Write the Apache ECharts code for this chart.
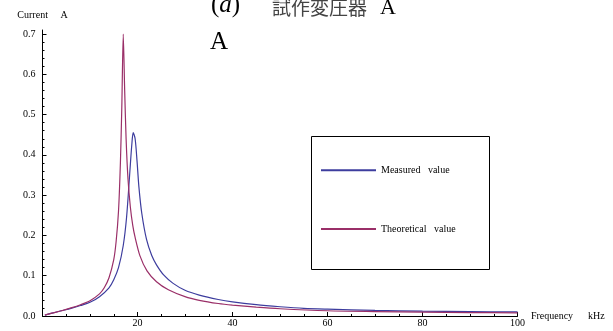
<!DOCTYPE html>
<html>
<head>
<meta charset="utf-8">
<script src="https://cdn.jsdelivr.net/npm/echarts@6/dist/echarts.min.js"></script>
<style>
html,body{margin:0;padding:0;background:#fff;}
#c{width:613px;height:331px;}
</style>
</head>
<body>
<div id="c"></div>
<script>
// ---- data ----
const seriesNames = ['Measured   value', 'Theoretical   value'];
const measuredFreq = [0.5, 2, 4, 6, 8, 10, 12, 14, 15, 16, 17, 17.7, 18.4, 18.8, 19.1, 19.5, 19.9, 20.3, 20.9, 21.9, 23, 24, 25.5, 27.5, 30, 33, 37, 40, 45, 50, 55, 60, 70, 80, 90, 100];
const measuredCurrent = [0.002, 0.007, 0.013, 0.019, 0.026, 0.034, 0.048, 0.070, 0.090, 0.120, 0.175, 0.245, 0.360, 0.425, 0.455, 0.440, 0.385, 0.320, 0.255, 0.190, 0.150, 0.127, 0.102, 0.081, 0.064, 0.052, 0.041, 0.035, 0.028, 0.023, 0.019, 0.017, 0.014, 0.012, 0.011, 0.010];
const theoreticalFreq = [0.5, 2, 4, 6, 8, 10, 12, 13, 14, 15, 15.5, 16, 16.4, 16.7, 17.0, 17.3, 17.6, 18.0, 18.5, 19, 19.5, 20.5, 22, 24, 26.5, 30, 33, 37, 40, 45, 50, 60, 70, 80, 90, 100];
const theoreticalCurrent = [0.002, 0.007, 0.013, 0.020, 0.028, 0.038, 0.055, 0.070, 0.095, 0.140, 0.185, 0.260, 0.380, 0.520, 0.700, 0.560, 0.440, 0.340, 0.270, 0.225, 0.195, 0.150, 0.112, 0.085, 0.065, 0.048, 0.039, 0.031, 0.027, 0.022, 0.018, 0.013, 0.011, 0.0095, 0.0085, 0.008];
const yMajorTicks = [0, 0.1, 0.2, 0.3, 0.4, 0.5, 0.6, 0.7];
const yMinorTicks = [0.02, 0.04, 0.06, 0.08, 0.12, 0.14, 0.16, 0.18, 0.22, 0.24, 0.26, 0.28, 0.32, 0.34, 0.36, 0.38, 0.42, 0.44, 0.46, 0.48, 0.52, 0.54, 0.56, 0.58, 0.62, 0.64, 0.66, 0.68];
const xAxisName = 'Frequency      kHz';
const yAxisName = 'Current     A';

const serif = 'Liberation Serif';
const pair = (xs, ys) => xs.map((x, i) => [x, ys[i]]);

const chart = echarts.init(document.getElementById('c'), null, {renderer: 'canvas'});
chart.setOption({
  animation: false,
  backgroundColor: '#fff',
  grid: {left: 42.5, right: 95.5, top: 30, bottom: 15, containLabel: false},
  xAxis: {
    type: 'value', min: 0, max: 100, interval: 20,
    name: xAxisName, nameLocation: 'end', nameGap: 9,
    nameTextStyle: {fontFamily: serif, fontSize: 10, color: '#000', verticalAlign: 'middle'},
    axisLine: {onZero: false, lineStyle: {color: '#000', width: 1}},
    axisTick: {inside: true, length: 4, lineStyle: {color: '#000'}},
    minorTick: {show: true, splitNumber: 4, length: 2, lineStyle: {color: '#000'}},
    axisLabel: {showMinLabel: false, margin: 2, fontFamily: serif, fontSize: 10, color: '#000'},
    splitLine: {show: false}
  },
  yAxis: [{
    type: 'value', min: 0, max: 0.71,
    name: yAxisName, nameLocation: 'end', nameGap: 10,
    nameTextStyle: {fontFamily: serif, fontSize: 10, color: '#000', align: 'center'},
    axisLine: {onZero: false, lineStyle: {color: '#000', width: 1}},
    axisTick: {inside: true, length: 4, customValues: yMajorTicks, lineStyle: {color: '#000'}},
    axisLabel: {customValues: yMajorTicks, margin: 7, fontFamily: serif, fontSize: 10, color: '#000',
      formatter: v => v.toFixed(1)},
    splitLine: {show: false}
  }, {
    type: 'value', min: 0, max: 0.71, position: 'left',
    axisLine: {show: false},
    axisTick: {show: true, inside: true, length: 2, customValues: yMinorTicks, lineStyle: {color: '#000'}},
    axisLabel: {show: false},
    splitLine: {show: false}
  }],
  legend: {
    data: seriesNames, orient: 'vertical', left: 320, top: 164.7, padding: 0,
    itemWidth: 55, itemHeight: 14, itemGap: 47.6,
    itemStyle: {opacity: 0, borderWidth: 0},
    textStyle: {fontFamily: serif, fontSize: 10, color: '#000'}
  },
  series: [{
    name: seriesNames[0], type: 'line', symbol: 'none', showSymbol: false,
    data: pair(measuredFreq, measuredCurrent), smooth: 0.3,
    lineStyle: {color: '#3d3d9e', width: 1.2}, itemStyle: {color: '#3d3d9e'}
  }, {
    name: seriesNames[1], type: 'line', symbol: 'none', showSymbol: false,
    data: pair(theoreticalFreq, theoreticalCurrent), smooth: 0.25,
    lineStyle: {color: '#9a2f68', width: 1.2}, itemStyle: {color: '#9a2f68'}
  }],
  graphic: [
    {type: 'rect', shape: {x: 311.5, y: 136.5, width: 178, height: 133},
     style: {fill: 'none', stroke: '#000', lineWidth: 1}, silent: true},
    {type: 'text', left: 211, top: -7,
     style: {text: '{n|(}{i|a}{n|)}', rich: {
       n: {fontFamily: serif, fontSize: 25, fill: '#000'},
       i: {fontFamily: serif, fontSize: 25, fontStyle: 'italic', fill: '#000'}}}},
    {type: 'text', left: 272, top: -2,
     style: {text: '試作変圧器', font: '19px "Noto Sans CJK JP"', fill: '#444'}},
    {type: 'text', left: 380, top: -3,
     style: {text: 'A', font: '22px "Liberation Serif"', fill: '#000'}},
    {type: 'text', left: 210, top: 30,
     style: {text: 'A', font: '25px "Liberation Serif"', fill: '#000'}}
  ]
});
</script>
</body>
</html>
